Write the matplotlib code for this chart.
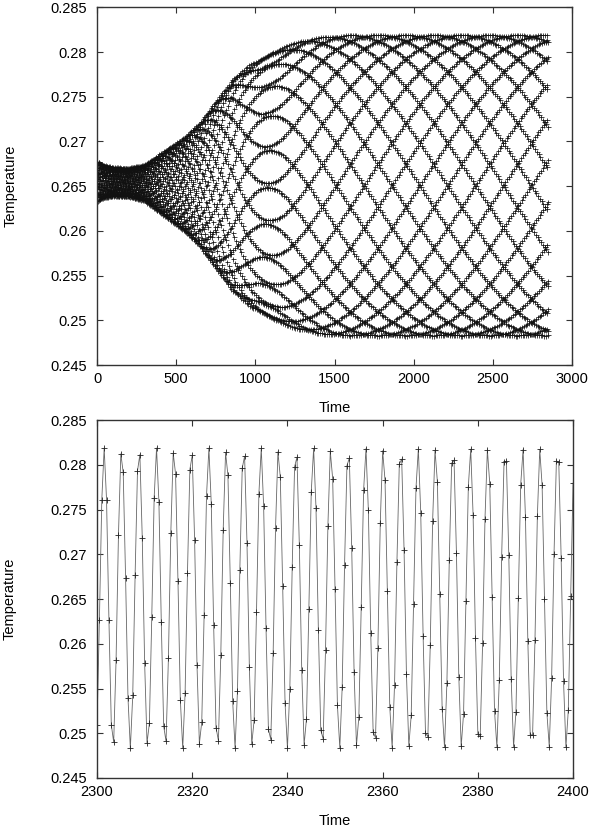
import numpy as np
import matplotlib
matplotlib.use('Agg')
from matplotlib import pyplot as plt

plt.rcParams['font.family'] = ['Liberation Sans', 'DejaVu Sans']

# sampling of the run (step)
time_step = 0.5
time_end = 2850.0

# half width of the band in the upper panel, read at a few times
envelope_time = [0, 8, 25, 100, 200, 300, 440, 550, 650, 750, 860, 960,
                 1070, 1180, 1280, 1390, 1490, 1600, 1700, 2850]
envelope_amp = [0.0004, 0.0023, 0.0019, 0.0016, 0.0016, 0.0020, 0.0038, 0.0052,
                0.0069, 0.0093, 0.0119, 0.0134, 0.0146, 0.0155, 0.0161, 0.0165,
                0.0167, 0.0168, 0.0168, 0.0168]

# centre of the band
mean_time = [0, 300, 650, 1000, 2850]
mean_temp = [0.2656, 0.2654, 0.2652, 0.2651, 0.2651]

# oscillation period (lower panel peaks + moire spacing of the upper panel)
period_time = [0, 580, 800, 1070, 1210, 1370, 2850]
period_value = [3.686, 3.682, 3.676, 3.6667, 3.6638, 3.6632, 3.6632]

# one sample sits right on a maximum here (lower panel)
peak_time = 2301.5

x_ticks_top = [0, 500, 1000, 1500, 2000, 2500, 3000]
x_ticks_bottom = [2300, 2320, 2340, 2360, 2380, 2400]
y_ticks = [0.245, 0.25, 0.255, 0.26, 0.265, 0.27, 0.275, 0.28, 0.285]
y_tick_labels = ["0.245", "0.25", "0.255", "0.26", "0.265", "0.27", "0.275", "0.28", "0.285"]

# build the sampled temperature from the readings above
time = np.arange(0, time_end + time_step / 2, time_step)
period = np.interp(time, period_time, period_value)
cycles = np.concatenate([[0.0], np.cumsum(time_step / period[:-1])])
cycles -= np.interp(peak_time, time, cycles)
temperature = (np.interp(time, mean_time, mean_temp)
               + np.interp(time, envelope_time, envelope_amp) * np.cos(2 * np.pi * cycles))

fig = plt.figure(figsize=(5.92, 8.27), dpi=100)
ax1 = fig.add_axes([0.1639, 0.5586, 0.8024, 0.4325])
ax2 = fig.add_axes([0.1639, 0.0593, 0.8041, 0.4325])

ax1.plot(time, temperature, linestyle='none', marker='+', markersize=3.6,
         markeredgewidth=0.55, color='#111111')

window = (time >= 2300) & (time <= 2400)
ax2.plot(time[window], temperature[window], color='#666666', linewidth=0.6,
         marker='+', markersize=4.5, markeredgewidth=0.6, markeredgecolor='#222222')

ax1.set_xlim(0, 3000)
ax1.set_xticks(x_ticks_top)
ax2.set_xlim(2300, 2400)
ax2.set_xticks(x_ticks_bottom)

for ax in (ax1, ax2):
    ax.set_ylim(0.245, 0.285)
    ax.set_yticks(y_ticks)
    ax.set_yticklabels(y_tick_labels)
    ax.tick_params(direction='in', top=True, right=True, length=4, width=0.8,
                   color='#333333', labelsize=10.5)
    ax.tick_params(axis='y', pad=7)
    ax.tick_params(axis='x', pad=5)
    for spine in ax.spines.values():
        spine.set_color('#333333')
        spine.set_linewidth(1.0)
    ax.set_xlabel("Time", fontsize=10.5)
    ax.set_ylabel("Temperature", fontsize=10.5)
    ax.yaxis.set_label_coords(-0.168, 0.5)
    ax.xaxis.set_label_coords(0.5, -0.10)

fig.savefig('out.png', dpi=100)
